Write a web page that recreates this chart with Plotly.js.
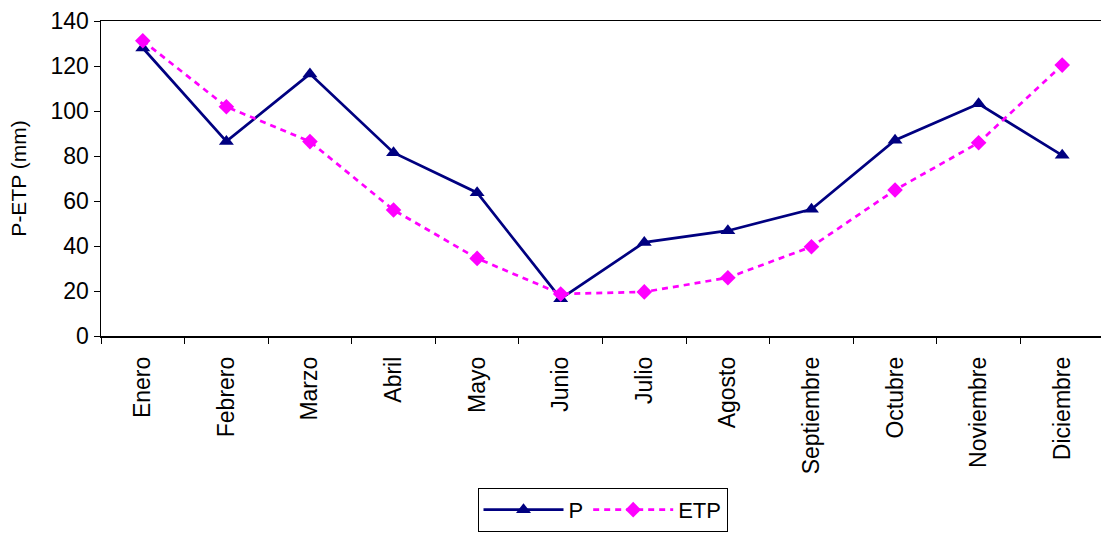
<!DOCTYPE html>
<html>
<head>
<meta charset="utf-8">
<script src="https://cdn.plot.ly/plotly-3.0.1.min.js"></script>
<style>
html,body{margin:0;padding:0;background:#fff;overflow:hidden;}
#chart{width:1104px;height:534px;}
</style>
</head>
<body>
<div id="chart"></div>
<script>
const months = ["Enero","Febrero","Marzo","Abril","Mayo","Junio","Julio","Agosto","Septiembre","Octubre","Noviembre","Diciembre"];
const pValues = [128, 86.5, 116.5, 81.5, 63.7, 16.6, 41.6, 46.8, 56.3, 87, 103.2, 80.3];
const etpValues = [131.2, 101.9, 86.4, 56, 34.5, 18.7, 19.6, 25.9, 39.7, 64.9, 85.9, 120.4];
const yTicks = [0, 20, 40, 60, 80, 100, 120, 140];

const font = "Liberation Sans, Arial, sans-serif";

const traces = [
  {
    x: months, y: pValues, name: "P", type: "scatter", mode: "lines+markers",
    line: {color: "#000080", width: 2.7},
    marker: {symbol: "triangle-up", size: 13, color: "#000080"}
  },
  {
    x: months, y: etpValues, name: "ETP", type: "scatter", mode: "lines+markers",
    line: {color: "#FF00FF", width: 2.7, dash: "6px,5px"},
    marker: {symbol: "diamond", size: 12, color: "#FF00FF"}
  }
];

const layout = {
  width: 1104, height: 534,
  margin: {l: 101, r: 0, t: 21, b: 198},
  paper_bgcolor: "#fff", plot_bgcolor: "#fff",
  font: {family: font, color: "#000", size: 21},
  showlegend: true,
  legend: {
    orientation: "h", x: 0.5, xanchor: "center",
    yref: "container", y: 0.004, yanchor: "bottom",
    bordercolor: "#000", borderwidth: 1, font: {family: font, size: 22},
    itemwidth: 80, tracegroupgap: 0
  },
  xaxis: {
    type: "category", range: [-0.5, 11.5],
    showline: true, linecolor: "#000", linewidth: 1.5, mirror: true,
    ticks: "outside", tickson: "boundaries", ticklen: 6, tickcolor: "#000",
    tickangle: -90, tickfont: {family: font, size: 23},
    ticklabelstandoff: 10,
    showgrid: false, zeroline: false
  },
  yaxis: {
    range: [0, 140], tickvals: yTicks, ticktext: yTicks.map(String),
    showline: true, linecolor: "#000", linewidth: 1.5, mirror: true,
    ticks: "outside", ticklen: 6, tickcolor: "#000",
    tickfont: {family: font, size: 23},
    showgrid: false, zeroline: false,
    title: {text: "P-ETP (mm)", font: {family: font, size: 21}, standoff: 18}
  }
};

Plotly.newPlot("chart", traces, layout, {staticPlot: true, displayModeBar: false});
</script>
</body>
</html>
